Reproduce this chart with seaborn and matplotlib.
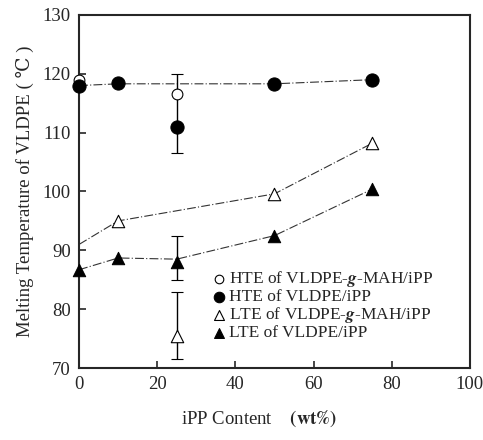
import matplotlib
matplotlib.use("Agg")
import matplotlib.pyplot as plt
import seaborn as sns

sns.set_style("ticks")
plt.rcParams['font.family'] = ['Liberation Serif', 'DejaVu Serif']
plt.rcParams['mathtext.fontset'] = 'stix'

# HTE of VLDPE/iPP (filled circles)
hte_x = [0, 10, 25, 50, 75]
hte_y = [118.0, 118.5, 111.0, 118.3, 119.0]
# HTE of VLDPE-g-MAH/iPP (open circles)
hte_mah_x = [0, 25]
hte_mah_y = [119.0, 116.5]
# LTE of VLDPE-g-MAH/iPP (open triangles)
lte_mah_x = [10, 25, 50, 75]
lte_mah_y = [95.0, 75.5, 99.6, 108.2]
# LTE of VLDPE/iPP (filled triangles)
lte_x = [0, 10, 25, 50, 75]
lte_y = [86.7, 88.7, 88.0, 92.5, 100.4]

# trend lines through the points
hte_line_x = [0, 10, 50, 75]
hte_line_y = [118.0, 118.3, 118.3, 119.0]
lte_mah_line_x = [0, 10, 50, 75]
lte_mah_line_y = [91.0, 95.0, 99.6, 108.2]
lte_line_x = [0, 10, 25, 50, 75]
lte_line_y = [86.7, 88.7, 88.5, 92.5, 100.4]

# error bars at 25 wt%
err_x = [25, 25, 25]
err_y = [111.0, 75.5, 88.0]
err_lo = [106.5, 71.5, 85.0]
err_hi = [120.0, 83.0, 92.5]

fig = plt.figure(figsize=(4.83, 4.40), dpi=100)
ax = fig.add_axes([0.1636, 0.1636, 0.8094, 0.8024])

dash = (0, (8, 2, 1, 2))
sns.lineplot(x=hte_line_x, y=hte_line_y, ax=ax, color='#333333', lw=0.8, linestyle=dash)
sns.lineplot(x=lte_mah_line_x, y=lte_mah_line_y, ax=ax, color='#333333', lw=0.8, linestyle=dash)
sns.lineplot(x=lte_line_x, y=lte_line_y, ax=ax, color='#333333', lw=0.8, linestyle=dash)

for xe, ye, lo, hi in zip(err_x, err_y, err_lo, err_hi):
    ax.errorbar([xe], [ye], yerr=[[ye - lo], [hi - ye]], fmt='none',
                ecolor='black', elinewidth=1.0, capsize=4, capthick=0.8)

sns.scatterplot(x=hte_mah_x, y=hte_mah_y, ax=ax, marker='o', s=60,
                facecolor='white', edgecolor='black', linewidth=0.8,
                label='HTE of VLDPE-$\\boldsymbol{g}$-MAH/iPP', zorder=3, clip_on=False)
sns.scatterplot(x=hte_x, y=hte_y, ax=ax, marker='o', s=90,
                color='black', edgecolor='black',
                label='HTE of VLDPE/iPP', zorder=4, clip_on=False)
sns.scatterplot(x=lte_mah_x, y=lte_mah_y, ax=ax, marker='^', s=80,
                facecolor='white', edgecolor='black', linewidth=0.8,
                label='LTE of VLDPE-$\\boldsymbol{g}$-MAH/iPP', zorder=3, clip_on=False)
sns.scatterplot(x=lte_x, y=lte_y, ax=ax, marker='^', s=80,
                color='black', edgecolor='black',
                label='LTE of VLDPE/iPP', zorder=4, clip_on=False)

ax.set_xlim(0, 100)
ax.set_ylim(70, 130)
ax.set_xticks([0, 20, 40, 60, 80, 100])
ax.set_yticks([70, 80, 90, 100, 110, 120, 130])
ax.tick_params(direction='in', length=5, labelsize=13.5, width=1.2, pad=6)
for sp in ax.spines.values():
    sp.set_linewidth(1.5)
    sp.set_visible(True)

ax.set_xlabel('iPP Content    $\\mathbf{(wt\\%)}$', fontsize=13.5)
ax.xaxis.set_label_coords(0.46, -0.115)
ax.set_ylabel('Melting Temperature of VLDPE ( ℃ )', fontsize=13.5, labelpad=6)

leg = ax.legend(loc='upper left', bbox_to_anchor=(0.335, 0.28), frameon=False,
                fontsize=12.5, handletextpad=0.1, labelspacing=0.0,
                borderaxespad=0, borderpad=0, handlelength=1.0, markerscale=0.8)

fig.savefig('out.png', dpi=100)
